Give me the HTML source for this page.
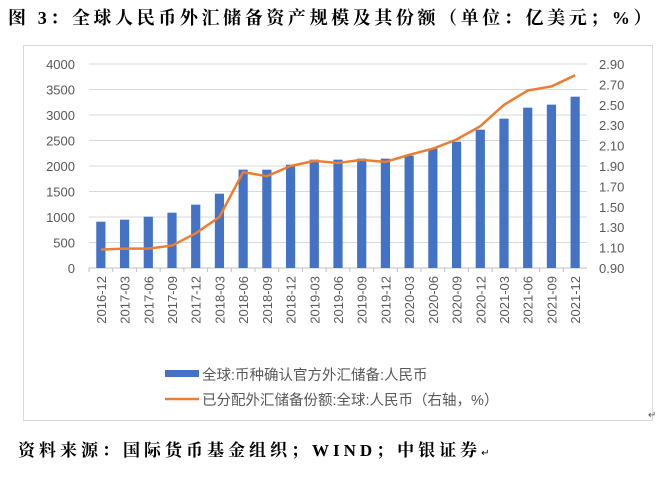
<!DOCTYPE html>
<html><head><meta charset="utf-8"><style>
body{margin:0;background:#fff;width:661px;height:478px;overflow:hidden;position:relative;font-family:"Liberation Sans","Noto Sans CJK SC",sans-serif}
.t{position:absolute;white-space:nowrap}
</style></head><body>
<div class="t" style="left:8px;top:4px;font-size:18px;font-weight:bold;font-family:'Liberation Serif','Noto Serif CJK SC',serif;letter-spacing:3.6px">图 3：全球人民币外汇储备资产规模及其份额（单位：亿美元；%）</div>
<div style="position:absolute;left:23px;top:45px;width:628px;height:374px;border:1px solid #d9d9d9"></div>
<svg id="c" width="661" height="478" style="position:absolute;left:0;top:0"></svg>
<div class="t" style="left:18px;top:436px;font-size:17px;font-weight:bold;font-family:'Liberation Serif','Noto Serif CJK SC',serif;letter-spacing:4px">资料来源：国际货币基金组织；WIND；中银证券<span style="font-size:10px;font-weight:normal">↵</span></div>
<div class="t" style="left:648px;top:410px;font-size:10px;color:#555">↵</div>
<script>
const categories=["2016-12","2017-03","2017-06","2017-09","2017-12","2018-03","2018-06","2018-09","2018-12","2019-03","2019-06","2019-09","2019-12","2020-03","2020-06","2020-09","2020-12","2021-03","2021-06","2021-09","2021-12"];
const reserves=[908,948,1006,1085,1242,1457,1928,1928,2026,2124,2124,2144,2144,2203,2340,2477,2712,2928,3144,3203,3359];
const share=[1.08,1.09,1.09,1.12,1.24,1.40,1.84,1.80,1.90,1.95,1.93,1.96,1.94,2.01,2.07,2.16,2.29,2.50,2.64,2.68,2.79];
const leftTicks=[0,500,1000,1500,2000,2500,3000,3500,4000];
const rightTicks=[0.90,1.10,1.30,1.50,1.70,1.90,2.10,2.30,2.50,2.70,2.90];
const NS="http://www.w3.org/2000/svg",svg=document.getElementById('c');
const X0=89,X1=587,Y0=268,Y1=64;
const bw=(X1-X0)/categories.length;
const xc=i=>X0+bw*(i+0.5);
const yl=v=>Y0-(v/4000)*(Y0-Y1);
const yr=v=>Y0-((v-0.9)/2.0)*(Y0-Y1);
function mk(t,a){const e=document.createElementNS(NS,t);for(const k in a)e.setAttribute(k,a[k]);svg.appendChild(e);return e;}
leftTicks.forEach(v=>{
 const g=mk('line',{x1:X0,x2:X1,y1:yl(v),y2:yl(v),stroke:v===0?'#bfbfbf':'#d9d9d9','stroke-width':1});
 
 
 const t=mk('text',{x:75,y:yl(v)+5,'text-anchor':'end','font-size':13,fill:'#595959'});t.textContent=v;
 
 
});
rightTicks.forEach(v=>{
 const t=mk('text',{x:599,y:yr(v)+5,'font-size':13,fill:'#595959'});t.textContent=v.toFixed(2);
 
 
});
categories.forEach((c,i)=>{
 const tk=mk('line',{x1:X0+bw*i,x2:X0+bw*i,y1:Y0,y2:Y0+4,stroke:'#bfbfbf'});
 
 
 const b=mk('rect',{x:xc(i)-4.6,y:yl(reserves[i]),width:9.2,height:Y0-yl(reserves[i]),fill:'#4472c4'});
 
 
 const t=mk('text',{x:0,y:0,'font-size':13,fill:'#595959','text-anchor':'end',transform:`translate(${xc(i)+5},${Y0+8}) rotate(-90)`});t.textContent=c;
 
 
});
const ln=mk('polyline',{points:share.map((v,i)=>xc(i)+','+yr(v)).join(' '),fill:'none',stroke:'#ed7d31','stroke-width':2.5,'stroke-linejoin':'round'});


const l1=mk('rect',{x:165,y:370,width:34,height:7,fill:'#4472c4'});


const t1=mk('text',{x:202,y:380,'font-size':14.5,fill:'#595959'});t1.textContent='全球:币种确认官方外汇储备:人民币';


const l2=mk('line',{x1:165,x2:199,y1:399,y2:399,stroke:'#ed7d31','stroke-width':2.5});


const t2=mk('text',{x:202,y:405,'font-size':14.5,fill:'#595959'});t2.textContent='已分配外汇储备份额:全球:人民币（右轴，%）';


</script>
</body></html>
